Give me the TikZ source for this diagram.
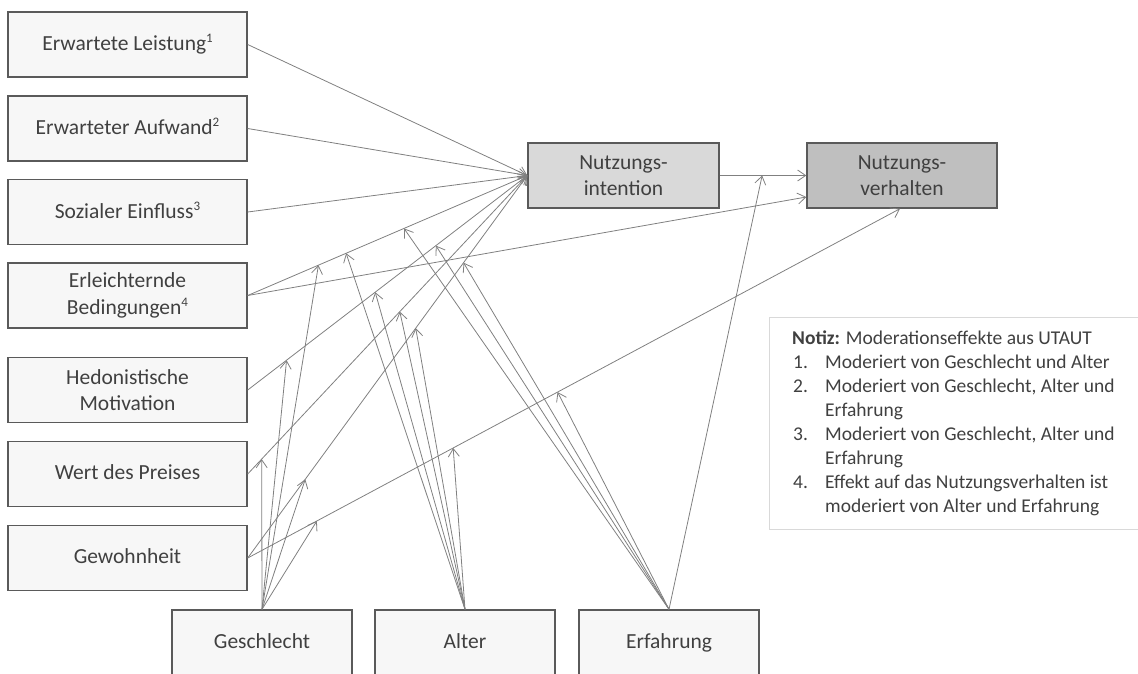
\documentclass[tikz,border=0pt]{standalone}
\usepackage{fontspec}
\setmainfont{Carlito}
\usetikzlibrary{arrows.meta,calc}
\definecolor{boxline}{HTML}{5A5A5A}
\definecolor{boxfill}{HTML}{F7F7F7}
\definecolor{nifill}{HTML}{D9D9D9}
\definecolor{nvfill}{HTML}{BFBFBF}
\definecolor{connc}{HTML}{808080}
\definecolor{txt}{HTML}{404040}
\definecolor{noteline}{HTML}{D9D9D9}
\newcommand{\supnum}[1]{\raisebox{0.38em}{\fontsize{13}{13}\selectfont #1}}
\newcommand{\sdepth}{\vphantom{g}}
\begin{document}
\begin{tikzpicture}[x=1pt,y=-1pt,
  box/.style={draw=boxline,line width=1.4pt,fill=boxfill,text=txt,align=center,
    font=\fontsize{21.5}{26.5}\selectfont,inner sep=0pt,minimum width=239pt,minimum height=65pt},
  conn/.style={draw=connc,line width=0.8pt,-{Straight Barb[length=8pt,width=11pt]}},
  notetxt/.style={anchor=base west,inner sep=0pt,text=txt,font=\fontsize{19.5}{23.5}\selectfont}
]
\useasboundingbox (0,0) rectangle (1138,673);
\clip (0,0) rectangle (1138,673);

% predictor boxes
\node[box] (b1) at (127.5,44.5) {Erwartete Leistung\supnum{1}\sdepth};
\node[box] (b2) at (127.5,128.5) {Erwarteter Aufwand\supnum{2}\sdepth};
\node[box] (b3) at (127.5,212) {Sozialer Einfluss\supnum{3}\sdepth};
\node[box] (b4) at (127.5,295.5) {Erleichternde\\Bedingungen\supnum{4}};
\node[box] (b5) at (127.5,390) {Hedonistische\\Motivation};
\node[box] (b6) at (127.5,474) {Wert des Preises\sdepth};
\node[box] (b7) at (127.5,558) {Gewohnheit\sdepth};

% outcome boxes
\node[box,fill=nifill,minimum width=191pt] (NI) at (623.5,175.5) {Nutzungs-\\intention};
\node[box,fill=nvfill,minimum width=190pt] (NV) at (902,175.5) {Nutzungs-\\verhalten};

% moderator boxes
\node[box,minimum width=180pt] (G) at (262,642.5) {Geschlecht\sdepth};
\node[box,minimum width=180pt] (A) at (465,642.5) {Alter\sdepth};
\node[box,minimum width=180pt] (E) at (669,642.5) {Erfahrung\sdepth};

% note
\node[draw=noteline,line width=1pt,fill=white,anchor=north west,inner sep=0pt,
  minimum width=380pt,minimum height=212pt] (note) at (769,317) {};
\node[notetxt] (nt0) at (792,344) {\textbf{Notiz:} Moderationseffekte aus UTAUT};
\node[notetxt] (nt1) at (793,368) {\makebox[32pt][l]{1.}Moderiert von Geschlecht und Alter};
\node[notetxt] (nt2) at (793,392) {\makebox[32pt][l]{2.}Moderiert von Geschlecht, Alter und};
\node[notetxt] (nt3) at (825,416) {Erfahrung};
\node[notetxt] (nt4) at (793,440) {\makebox[32pt][l]{3.}Moderiert von Geschlecht, Alter und};
\node[notetxt] (nt5) at (825,464) {Erfahrung};
\node[notetxt] (nt6) at (793,488) {\makebox[32pt][l]{4.}Effekt auf das Nutzungsverhalten ist};
\node[notetxt] (nt7) at (825,512) {moderiert von Alter und Erfahrung};

% main paths
\draw[conn] (b1.east) -- (NI.west);
\draw[conn] (b2.east) -- (NI.west);
\draw[conn] (b3.east) -- (NI.west);
\draw[conn] (b4.east) -- (NI.west);
\draw[conn] (b4.east) -- ([yshift=-21.5pt]NV.west);
\draw[conn] (b5.east) -- (NI.west);
\draw[conn] (b6.east) -- (NI.west);
\draw[conn] (b7.east) -- (NI.west);
\draw[conn] (b7.east) -- ([xshift=-2pt]NV.south);
\draw[conn] (NI.east) -- (NV.west);

% points on paths where moderators act
\path (b4.east) -- (NI.west) coordinate[pos=0.253] (p4g) coordinate[pos=0.352] (p4a) coordinate[pos=0.559] (p4e);
\path (b5.east) -- (NI.west) coordinate[pos=0.139] (p5g) coordinate[pos=0.456] (p5a) coordinate[pos=0.673] (p5e);
\path (b6.east) -- (NI.west) coordinate[pos=0.05] (p6g) coordinate[pos=0.544] (p6a);
\path (b7.east) -- (NI.west) coordinate[pos=0.206] (p7g) coordinate[pos=0.601] (p7a) coordinate[pos=0.772] (p7e);
\path (b7.east) -- ([xshift=-2pt]NV.south) coordinate[pos=0.106] (q7g) coordinate[pos=0.315] (q7a) coordinate[pos=0.475] (q7e);
\path (NI.east) -- (NV.west) coordinate[pos=0.49] (p8e);

% Geschlecht
\draw[conn] (G.north) -- (p4g);
\draw[conn] (G.north) -- (p5g);
\draw[conn] (G.north) -- (p6g);
\draw[conn] (G.north) -- (p7g);
\draw[conn] (G.north) -- (q7g);
% Alter
\draw[conn] (A.north) -- (p4a);
\draw[conn] (A.north) -- (p5a);
\draw[conn] (A.north) -- (p6a);
\draw[conn] (A.north) -- (p7a);
\draw[conn] (A.north) -- (q7a);
% Erfahrung
\draw[conn] (E.north) -- (p4e);
\draw[conn] (E.north) -- (p5e);
\draw[conn] (E.north) -- (p7e);
\draw[conn] (E.north) -- (q7e);
\draw[conn] (E.north) -- (p8e);
\end{tikzpicture}
\end{document}
